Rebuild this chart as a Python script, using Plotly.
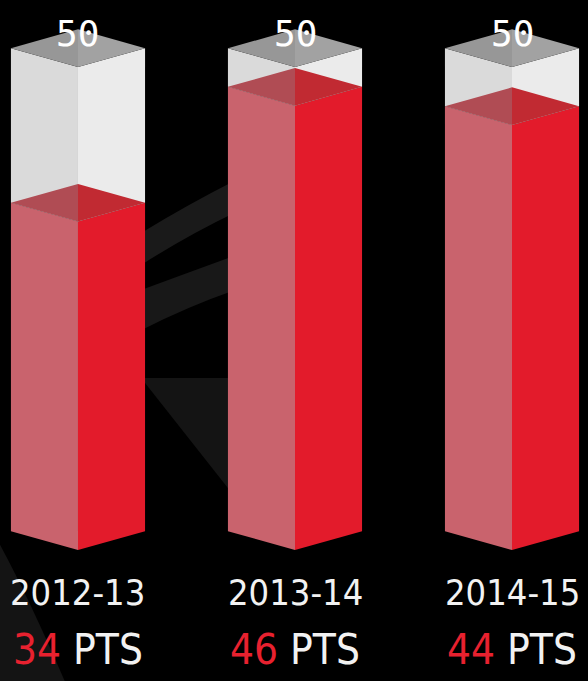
import plotly.graph_objects as go

# ---- data ----
SEASONS = ["2012-13", "2013-14", "2014-15"]
POINTS = [34, 46, 44]
MAX_POINTS = [50, 50, 50]
UNIT = "PTS"

# ---- style ----
HALF_W = 0.309      # half bar width (x units)
DEPTH = 1.95        # isometric depth offset (y units)
RED_L = "#c9636d"
RED_R = "#e31b2b"
RED_TOP_L = "#b04c54"
RED_TOP_R = "#c12a32"
GRAY_L = "#dadada"
GRAY_R = "#ebebeb"
GRAY_TOP_L = "#979797"
GRAY_TOP_R = "#a2a2a2"
RED_TXT = "#e8212f"
LABEL_FONT = "Liberation Sans Narrow, DejaVu Sans Condensed, Roboto, sans-serif"
MONO_FONT = "DejaVu Sans Mono, Liberation Mono, monospace"

fig = go.Figure()


def poly(xs, ys, color):
    fig.add_trace(go.Scatter(
        x=xs + [xs[0]], y=ys + [ys[0]], mode="lines", fill="toself",
        fillcolor=color, line=dict(width=0, color=color),
        hoverinfo="skip", showlegend=False))


for i, (season, v, m) in enumerate(zip(SEASONS, POINTS, MAX_POINTS)):
    c = i
    l, r = c - HALF_W, c + HALF_W
    d = DEPTH
    # red side faces
    poly([l, c, c, l], [d, 0, v, v + d], RED_L)
    poly([c, r, r, c], [0, d, v + d, v], RED_R)
    # gray side faces (empty part up to max)
    poly([l, c, c, l], [v + d, v, m, m + d], GRAY_L)
    poly([c, r, r, c], [v, v + d, m + d, m], GRAY_R)
    # red top (seen through the glass)
    poly([l, c, c], [v + d, v + 2 * d, v], RED_TOP_L)
    poly([c, r, c], [v + 2 * d, v + d, v], RED_TOP_R)
    # gray top
    poly([l, c, c], [m + d, m + 2 * d, m], GRAY_TOP_L)
    poly([c, r, c], [m + 2 * d, m + d, m], GRAY_TOP_R)

    fig.add_annotation(x=c, y=m + 2 * d, text=str(m), showarrow=False,
                       yanchor="middle", yshift=-4,
                       font=dict(family=MONO_FONT, size=36, color="white"))
    fig.add_annotation(x=c, y=0, text=season, showarrow=False,
                       yanchor="middle", yshift=-42,
                       font=dict(family=LABEL_FONT, size=36, color="#f2f2f2"))
    fig.add_annotation(x=c, y=0,
                       text=f"<span style='color:{RED_TXT}'>{v}</span> {UNIT}",
                       showarrow=False, yanchor="middle", yshift=-99,
                       font=dict(family=LABEL_FONT, size=42, color="#f2f2f2"))

# faint background swirls (decoration)
bg_shapes = [
    ("M 0.24,0.658 Q 0.32,0.70 0.40,0.735 L 0.40,0.688 Q 0.32,0.655 0.24,0.611 Z", "#1a1a1a"),
    ("M 0.24,0.574 Q 0.32,0.60 0.40,0.625 L 0.40,0.574 Q 0.32,0.55 0.24,0.515 Z", "#181818"),
    ("M 0.24,0.445 L 0.40,0.445 L 0.40,0.27 Z", "#141414"),
    ("M 0.0,0.20 Q 0.05,0.12 0.11,0.0 L 0.0,0.0 Z", "#141414"),
]
for p, col in bg_shapes:
    fig.add_shape(type="path", path=p, xref="paper", yref="paper",
                  fillcolor=col, line=dict(width=0), layer="below")

fig.update_layout(
    width=588, height=681,
    margin=dict(l=0, r=0, t=0, b=0),
    paper_bgcolor="black", plot_bgcolor="black",
    xaxis=dict(range=[-0.3594, 2.3502], visible=False, fixedrange=True),
    yaxis=dict(range=[-13.56, 56.94], visible=False, fixedrange=True),
    showlegend=False,
)

fig.write_html("out.html", config=dict(displayModeBar=False, staticPlot=True),
               post_script="document.body.style.margin='0';document.body.style.background='black';")
